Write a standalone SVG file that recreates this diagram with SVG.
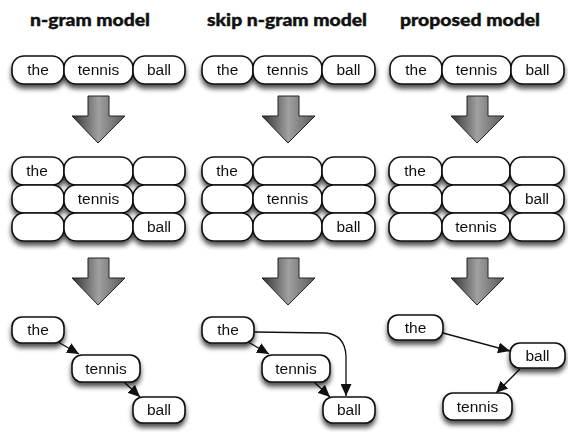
<svg xmlns="http://www.w3.org/2000/svg" width="568" height="432" viewBox="0 0 568 432">
<style>
.title{font-family:Lato,"Open Sans","DejaVu Sans",sans-serif;font-weight:900;font-size:17px;fill:#111;stroke:#111;stroke-width:0.4}
.cell{fill:#fff;stroke:#111;stroke-width:1.6}
.lbl{font-family:"Liberation Sans",Arial,sans-serif;font-size:15.5px;fill:#111;text-anchor:middle}
.edge{fill:none;stroke:#111;stroke-width:1.3}
.big{fill:url(#ag);stroke:#222;stroke-width:1}
</style>
<defs>
<filter id="sh" x="-20%" y="-30%" width="140%" height="180%">
<feGaussianBlur in="SourceAlpha" stdDeviation="2.5"/>
<feOffset dx="0" dy="4" result="b"/>
<feComponentTransfer><feFuncA type="linear" slope="0.7"/></feComponentTransfer>
<feMerge><feMergeNode/><feMergeNode in="SourceGraphic"/></feMerge>
</filter>
<linearGradient id="ag" x1="0" y1="0" x2="1" y2="0">
<stop offset="0" stop-color="#333"/>
<stop offset="0.5" stop-color="#a0a0a0"/>
<stop offset="1" stop-color="#5a5a5a"/>
</linearGradient>
<marker id="ah" markerUnits="userSpaceOnUse" markerWidth="13" markerHeight="11" refX="12" refY="5.5" orient="auto">
<path d="M0,0 L12,5.5 L0,11 Z" fill="#111"/>
</marker>
</defs>

<g id="titles">
<text class="title" x="30" y="26" textLength="120" lengthAdjust="spacingAndGlyphs">n-gram model</text>
<text class="title" x="207" y="26" textLength="160" lengthAdjust="spacingAndGlyphs">skip n-gram model</text>
<text class="title" x="400" y="26" textLength="140" lengthAdjust="spacingAndGlyphs">proposed model</text>
</g>

<g id="row-ngram" filter="url(#sh)">
<rect class="cell" x="12" y="56" width="52" height="28" rx="12"/>
<rect class="cell" x="64" y="56" width="69" height="28" rx="12"/>
<rect class="cell" x="133" y="56" width="52" height="28" rx="12"/>
<text class="lbl" x="38" y="75">the</text>
<text class="lbl" x="98.5" y="75">tennis</text>
<text class="lbl" x="159" y="75">ball</text>
</g>
<g id="row-skip" filter="url(#sh)">
<rect class="cell" x="202" y="56" width="51" height="28" rx="12"/>
<rect class="cell" x="253" y="56" width="69" height="28" rx="12"/>
<rect class="cell" x="322" y="56" width="53" height="28" rx="12"/>
<text class="lbl" x="227.5" y="75">the</text>
<text class="lbl" x="287.5" y="75">tennis</text>
<text class="lbl" x="348.5" y="75">ball</text>
</g>
<g id="row-prop" filter="url(#sh)">
<rect class="cell" x="390" y="56" width="52" height="28" rx="12"/>
<rect class="cell" x="442" y="56" width="69" height="28" rx="12"/>
<rect class="cell" x="511" y="56" width="53" height="28" rx="12"/>
<text class="lbl" x="416" y="75">the</text>
<text class="lbl" x="476.5" y="75">tennis</text>
<text class="lbl" x="537.5" y="75">ball</text>
</g>

<g id="bigarrows">
<path class="big" d="M88,96 H109 V116 H125 L98,143 L72,116 H88 Z"/>
<path class="big" d="M278,96 H299 V116 H315 L288,143 L262,116 H278 Z"/>
<path class="big" d="M467,96 H488 V116 H504 L477,143 L451,116 H467 Z"/>
<path class="big" d="M88,258 H109 V278 H125 L98,305 L72,278 H88 Z"/>
<path class="big" d="M278,258 H299 V278 H315 L288,305 L262,278 H278 Z"/>
<path class="big" d="M467,258 H488 V278 H504 L477,305 L451,278 H467 Z"/>
</g>

<g id="grid-ngram" filter="url(#sh)">
<rect class="cell" x="12" y="157" width="52" height="28" rx="12"/>
<rect class="cell" x="64" y="157" width="69" height="28" rx="12"/>
<rect class="cell" x="133" y="157" width="52" height="28" rx="12"/>
<rect class="cell" x="12" y="185" width="52" height="28" rx="12"/>
<rect class="cell" x="64" y="185" width="69" height="28" rx="12"/>
<rect class="cell" x="133" y="185" width="52" height="28" rx="12"/>
<rect class="cell" x="12" y="213" width="52" height="28" rx="12"/>
<rect class="cell" x="64" y="213" width="69" height="28" rx="12"/>
<rect class="cell" x="133" y="213" width="52" height="28" rx="12"/>
<text class="lbl" x="37" y="176">the</text>
<text class="lbl" x="98.5" y="204">tennis</text>
<text class="lbl" x="159" y="232">ball</text>
</g>
<g id="grid-skip" filter="url(#sh)">
<rect class="cell" x="202" y="157" width="51" height="28" rx="12"/>
<rect class="cell" x="253" y="157" width="69" height="28" rx="12"/>
<rect class="cell" x="322" y="157" width="53" height="28" rx="12"/>
<rect class="cell" x="202" y="185" width="51" height="28" rx="12"/>
<rect class="cell" x="253" y="185" width="69" height="28" rx="12"/>
<rect class="cell" x="322" y="185" width="53" height="28" rx="12"/>
<rect class="cell" x="202" y="213" width="51" height="28" rx="12"/>
<rect class="cell" x="253" y="213" width="69" height="28" rx="12"/>
<rect class="cell" x="322" y="213" width="53" height="28" rx="12"/>
<text class="lbl" x="227" y="176">the</text>
<text class="lbl" x="287.5" y="204">tennis</text>
<text class="lbl" x="348.5" y="232">ball</text>
</g>
<g id="grid-prop" filter="url(#sh)">
<rect class="cell" x="389" y="157" width="53" height="28" rx="12"/>
<rect class="cell" x="442" y="157" width="68" height="28" rx="12"/>
<rect class="cell" x="510" y="157" width="54" height="28" rx="12"/>
<rect class="cell" x="389" y="185" width="53" height="28" rx="12"/>
<rect class="cell" x="442" y="185" width="68" height="28" rx="12"/>
<rect class="cell" x="510" y="185" width="54" height="28" rx="12"/>
<rect class="cell" x="389" y="213" width="53" height="28" rx="12"/>
<rect class="cell" x="442" y="213" width="68" height="28" rx="12"/>
<rect class="cell" x="510" y="213" width="54" height="28" rx="12"/>
<text class="lbl" x="415" y="176">the</text>
<text class="lbl" x="537" y="204">ball</text>
<text class="lbl" x="476" y="232">tennis</text>
</g>

<g id="connectors">
<path class="edge" d="M58,342 L79,354" marker-end="url(#ah)"/>
<path class="edge" d="M124,382 L140,397" marker-end="url(#ah)"/>
<path class="edge" d="M248,342 L269,354" marker-end="url(#ah)"/>
<path class="edge" d="M314,382 L330,397" marker-end="url(#ah)"/>
<path class="edge" d="M254,332 L326,333 Q345,335 346,356 L346,396" marker-end="url(#ah)"/>
<path class="edge" d="M443,333 L510,351" marker-end="url(#ah)"/>
<path class="edge" d="M520,369 L496,393" marker-end="url(#ah)"/>
</g>

<g id="n1-the" filter="url(#sh)"><rect class="cell" x="12" y="317" width="52" height="26" rx="10"/><text class="lbl" x="38" y="335">the</text></g>
<g id="n1-tennis" filter="url(#sh)"><rect class="cell" x="72" y="355" width="68" height="27" rx="10"/><text class="lbl" x="106" y="374">tennis</text></g>
<g id="n1-ball" filter="url(#sh)"><rect class="cell" x="133" y="397" width="52" height="26" rx="10"/><text class="lbl" x="159" y="415">ball</text></g>

<g id="n2-the" filter="url(#sh)"><rect class="cell" x="202" y="317" width="52" height="26" rx="10"/><text class="lbl" x="228" y="335">the</text></g>
<g id="n2-tennis" filter="url(#sh)"><rect class="cell" x="262" y="355" width="68" height="27" rx="10"/><text class="lbl" x="296" y="374">tennis</text></g>
<g id="n2-ball" filter="url(#sh)"><rect class="cell" x="323" y="397" width="52" height="26" rx="10"/><text class="lbl" x="349" y="415">ball</text></g>

<g id="n3-the" filter="url(#sh)"><rect class="cell" x="388" y="315" width="55" height="25" rx="10"/><text class="lbl" x="415.5" y="333">the</text></g>
<g id="n3-ball" filter="url(#sh)"><rect class="cell" x="510" y="343" width="55" height="25" rx="10"/><text class="lbl" x="537.5" y="361">ball</text></g>
<g id="n3-tennis" filter="url(#sh)"><rect class="cell" x="443" y="393" width="69" height="27" rx="10"/><text class="lbl" x="477.5" y="412">tennis</text></g>
</svg>
